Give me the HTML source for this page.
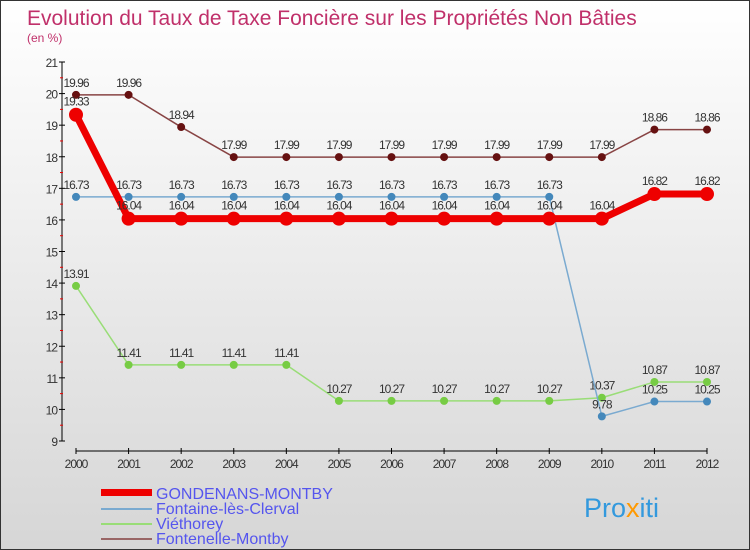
<!DOCTYPE html>
<html><head><meta charset="utf-8"><style>
body{margin:0}
#wrap{width:748px;height:548px;border:1px solid #333;background:linear-gradient(#ffffff,#d6d6d6);position:relative;overflow:hidden;font-family:"Liberation Sans",sans-serif}
</style></head><body>
<div id="wrap">
<svg id="svg" width="748" height="548" xmlns="http://www.w3.org/2000/svg">
<text x="26" y="24" font-size="21" fill="#c0306a" font-weight="300">Evolution du Taux de Taxe Foncière sur les Propriétés Non Bâties</text>
<text x="26" y="41" font-size="12" fill="#c0306a">(en %)</text>
<g id="axes"></g><g id="series"></g>
<g id="legend" font-size="16" fill="#5555ee">
<rect x="100" y="488" width="51" height="7" fill="#ee0000"/>
<text x="155" y="498">GONDENANS-MONTBY</text>
<rect x="100" y="507" width="51" height="2" fill="#7aaad0"/>
<text x="155" y="513">Fontaine-lès-Clerval</text>
<rect x="100" y="522" width="51" height="2" fill="#99dd77"/>
<text x="155" y="528">Viéthorey</text>
<rect x="100" y="537" width="51" height="2" fill="#996666"/>
<text x="155" y="543">Fontenelle-Montby</text>
</g>
<text x="583" y="516" font-size="27" fill="#3399dd">Pro<tspan fill="#ff9900">x</tspan>iti</text>
</svg></div>
<script>
const years=[2000,2001,2002,2003,2004,2005,2006,2007,2008,2009,2010,2011,2012];
const yTicks=[9,10,11,12,13,14,15,16,17,18,19,20,21];
const gondenans=[19.33,16.04,16.04,16.04,16.04,16.04,16.04,16.04,16.04,16.04,16.04,16.82,16.82];
const fontaine=[16.73,16.73,16.73,16.73,16.73,16.73,16.73,16.73,16.73,16.73,9.78,10.25,10.25];
const viethorey=[13.91,11.41,11.41,11.41,11.41,10.27,10.27,10.27,10.27,10.27,10.37,10.87,10.87];
const fontenelle=[19.96,19.96,18.94,17.99,17.99,17.99,17.99,17.99,17.99,17.99,17.99,18.86,18.86];
const NS="http://www.w3.org/2000/svg";
const X=i=>75+i*(631/12);
const Y=v=>440-(v-9)*(379/12);
function mk(tag,attrs,parent,txt){const e=document.createElementNS(NS,tag);for(const k in attrs)e.setAttribute(k,attrs[k]);if(txt!==undefined)e.textContent=txt;parent.appendChild(e);return e;}
const ax=document.getElementById('axes');
let e=mk('line',{x1:61,y1:61,x2:61,y2:440,stroke:'#000','stroke-width':1},ax);


yTicks.forEach(t=>{
 mk('line',{x1:58,y1:Y(t),x2:64,y2:Y(t),stroke:'#000'},ax);
 if(t<21)mk('line',{x1:59,y1:Y(t+0.5),x2:62,y2:Y(t+0.5),stroke:'#e00'},ax);
 const l=mk('text',{x:56,y:Y(t)+5,'text-anchor':'end','font-size':12,fill:'#333','letter-spacing':'-1'},ax,t);
 
 
});
e=mk('line',{x1:75,y1:450,x2:706,y2:450,stroke:'#000'},ax);


years.forEach((y,i)=>{
 mk('line',{x1:X(i),y1:447,x2:X(i),y2:453,stroke:'#000'},ax);
 const l=mk('text',{x:X(i),y:467,'text-anchor':'middle','font-size':12,fill:'#333','letter-spacing':'-1'},ax,y);
 
 
});
const sg=document.getElementById('series');
function series(data,name,color,w,r,dot,lblOff){
 const g=mk('g',{},sg);
 
 
 const p=mk('polyline',{points:data.map((v,i)=>X(i)+','+Y(v)).join(' '),fill:'none',stroke:color,'stroke-width':w,'stroke-linejoin':'round'},g);
 
 
 data.forEach((v,i)=>{
  const c=mk('circle',{cx:X(i),cy:Y(v),r:r,fill:dot},g);
  
  
  const t=mk('text',{x:X(i),y:Y(v)+lblOff,'text-anchor':'middle','font-size':12,fill:'#333','letter-spacing':'-1'},g,v);
  
  
 });
}
series(viethorey,'viethorey','#99dd77',1.5,4,'#77cc44',-8);
series(fontaine,'fontaine','#7aaad0',1.5,4,'#4488bb',-8);
series(fontenelle,'fontenelle','#884444',1.5,4,'#661111',-8);
series(gondenans,'gondenans','#ee0000',7,7,'#ee0000',-9);
</script>
</body></html>
